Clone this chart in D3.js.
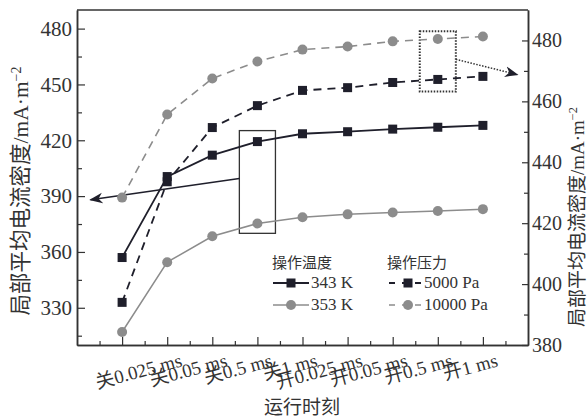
<!DOCTYPE html>
<html>
<head>
<meta charset="utf-8">
<script src="https://cdn.jsdelivr.net/npm/d3@7"></script>
<style>
  body { margin: 0; background: #fff; }
</style>
</head>
<body>
<div id="chart"></div>
<script>
// x positions 0..8, first point has no label
var tickLabels = ["", "关0.025 ms", "关0.05 ms", "关0.5 ms", "关1 ms", "开0.025 ms", "开0.05 ms", "开0.5 ms", "开1 ms"];

// left axis (操作温度)
var t343 = [357, 400.5, 412, 419.3, 423.5, 424.6, 426, 427, 428];
var t353 = [317, 354.5, 368.4, 375.3, 378.6, 380.2, 381.2, 382, 383];
// right axis (操作压力)
var p5000 = [394, 433.6, 451.4, 458.6, 463.6, 464.5, 466.2, 467.2, 468.2];
var p10000 = [428.4, 455.7, 467.5, 473.1, 477, 478, 479.7, 480.5, 481.3];

var leftTicks = [330, 360, 390, 420, 450, 480];
var rightTicks = [380, 400, 420, 440, 460, 480];

var FONT = '"Liberation Serif", "Noto Sans CJK SC", serif';

var width = 588, height = 417;
var margin = {left: 77, right: 60, top: 10, bottom: 72};

var svg = d3.select("#chart").append("svg")
  .attr("width", width).attr("height", height);

var x = d3.scaleLinear().domain([-1, 9]).range([margin.left, width - margin.right]);
var yL = d3.scaleLinear().domain([310, 490]).range([height - margin.bottom, margin.top]);
var yR = d3.scaleLinear().domain([380, 490]).range([height - margin.bottom, margin.top]);

var dark = "#1f1f2b", gray = "#8c8c8c", axisCol = "#333";

function txt(sel, size) {
  return sel.style("font-family", FONT).style("font-size", size + "px").attr("fill", "#333");
}

// frame top
svg.append("line")
  .attr("x1", x(-1)).attr("x2", x(9))
  .attr("y1", margin.top).attr("y2", margin.top)
  .attr("stroke", axisCol).attr("stroke-width", 1.5);

function styleAxis(g, size) {
  g.selectAll("path").attr("stroke", axisCol).attr("stroke-width", 1.5);
  g.selectAll("line").attr("stroke", axisCol).attr("stroke-width", 1.2);
  txt(g.selectAll("text"), size);
}

// left axis
var gl = svg.append("g").attr("transform", `translate(${margin.left},0)`)
  .call(d3.axisLeft(yL).tickValues(leftTicks).tickSizeInner(-8).tickSizeOuter(0).tickPadding(5));
styleAxis(gl, 21);
var glm = svg.append("g").attr("transform", `translate(${margin.left},0)`)
  .call(d3.axisLeft(yL).tickValues(d3.range(315, 490, 30)).tickSizeInner(-5).tickSizeOuter(0).tickFormat(""));
styleAxis(glm, 10);

// right axis
var gr = svg.append("g").attr("transform", `translate(${width - margin.right},0)`)
  .call(d3.axisRight(yR).tickValues(rightTicks).tickSizeInner(-6).tickSizeOuter(0).tickPadding(4));
styleAxis(gr, 20);
var grm = svg.append("g").attr("transform", `translate(${width - margin.right},0)`)
  .call(d3.axisRight(yR).tickValues(d3.range(390, 490, 20)).tickSizeInner(-4).tickSizeOuter(0).tickFormat(""));
styleAxis(grm, 10);

// bottom axis
var gb = svg.append("g").attr("transform", `translate(0,${height - margin.bottom})`)
  .call(d3.axisBottom(x).tickValues(d3.range(0, 9)).tickSizeInner(-8).tickSizeOuter(0).tickFormat(""));
styleAxis(gb, 10);
var gbm = svg.append("g").attr("transform", `translate(0,${height - margin.bottom})`)
  .call(d3.axisBottom(x).tickValues(d3.range(-0.5, 9, 1)).tickSizeInner(-4).tickSizeOuter(0).tickFormat(""));
styleAxis(gbm, 10);

txt(svg.append("g").selectAll("text")
  .data(tickLabels)
  .enter().append("text")
  .attr("transform", (d, i) => `translate(${x(i) + 16},${height - margin.bottom + 21}) rotate(-15)`)
  .attr("text-anchor", "end")
  .text(d => d), 19);

// axis titles
txt(svg.append("text")
  .attr("x", 302).attr("y", 414)
  .attr("text-anchor", "middle")
  .text("运行时刻"), 19);

function yTitle(cx, cy, size) {
  var t = txt(svg.append("text")
    .attr("transform", `translate(${cx},${cy}) rotate(-90)`)
    .attr("text-anchor", "middle")
    .attr("dy", "0.35em"), size);
  t.append("tspan").text("局部平均电流密度/mA·m");
  t.append("tspan").attr("dy", "-0.5em").style("font-size", (size * 0.65) + "px").text("−2");
}
yTitle(20, 191, 21.5);
yTitle(577, 217, 19);

// annotation boxes and arrows
svg.append("defs").append("marker")
  .attr("id", "arr").attr("viewBox", "0 0 10 10")
  .attr("refX", 9).attr("refY", 5)
  .attr("markerWidth", 9).attr("markerHeight", 9)
  .attr("orient", "auto-start-reverse")
  .append("path").attr("d", "M0,1 L10,5 L0,9 L3,5 Z").attr("fill", dark);

svg.append("rect")
  .attr("x", x(2.6)).attr("y", yL(425.2))
  .attr("width", x(3.4) - x(2.6)).attr("height", yL(370) - yL(425.2))
  .attr("fill", "none").attr("stroke", axisCol).attr("stroke-width", 1.3);
svg.append("line")
  .attr("x1", x(2.6)).attr("y1", yL(399.5))
  .attr("x2", x(-0.7)).attr("y2", yL(388))
  .attr("stroke", dark).attr("stroke-width", 1.5)
  .attr("marker-end", "url(#arr)");

svg.append("rect")
  .attr("x", x(6.6)).attr("y", yR(483))
  .attr("width", x(7.4) - x(6.6)).attr("height", yR(463.2) - yR(483))
  .attr("fill", "none").attr("stroke", axisCol).attr("stroke-width", 2)
  .attr("stroke-dasharray", "1.5,1.5");
svg.append("line")
  .attr("x1", x(7.4)).attr("y1", yR(473.8))
  .attr("x2", x(8.76)).attr("y2", yR(468.8))
  .attr("stroke", axisCol).attr("stroke-width", 1.5)
  .attr("stroke-dasharray", "1.5,1.5")
  .attr("marker-end", "url(#arr)");

// series
var series = [
  {name: "343 K", data: t343, y: yL, color: dark, dash: null, shape: "square", w: 1.8},
  {name: "353 K", data: t353, y: yL, color: gray, dash: null, shape: "circle", w: 1.5},
  {name: "5000 Pa", data: p5000, y: yR, color: dark, dash: "8,6", shape: "square", w: 1.8},
  {name: "10000 Pa", data: p10000, y: yR, color: gray, dash: "8,6", shape: "circle", w: 1.6}
];

function drawMarker(g, shape, color, cx, cy) {
  if (shape === "square") {
    g.append("rect").attr("x", cx - 4.5).attr("y", cy - 4.5)
      .attr("width", 9).attr("height", 9).attr("fill", color);
  } else {
    g.append("circle").attr("cx", cx).attr("cy", cy).attr("r", 5).attr("fill", color);
  }
}

series.forEach(function(s) {
  var line = d3.line().x((d, i) => x(i)).y(d => s.y(d));
  svg.append("path")
    .datum(s.data)
    .attr("d", line)
    .attr("fill", "none")
    .attr("stroke", s.color)
    .attr("stroke-width", s.w)
    .attr("stroke-dasharray", s.dash);
  var g = svg.append("g");
  s.data.forEach((d, i) => drawMarker(g, s.shape, s.color, x(i), s.y(d)));
});

// legend
var leg = svg.append("g");
txt(leg.append("text").attr("x", 272).attr("y", 268).text("操作温度"), 15);
txt(leg.append("text").attr("x", 387).attr("y", 268).text("操作压力"), 15);

[series[0], series[1]].forEach(function(s, i) {
  var yy = 283 + i * 22;
  leg.append("line").attr("x1", 273).attr("x2", 309).attr("y1", yy).attr("y2", yy)
    .attr("stroke", s.color).attr("stroke-width", s.w);
  drawMarker(leg, s.shape, s.color, 291, yy);
  txt(leg.append("text").attr("x", 311).attr("y", yy + 5).text(s.name), 17);
});
[series[2], series[3]].forEach(function(s, i) {
  var yy = 283 + i * 22;
  leg.append("line").attr("x1", 389).attr("x2", 421).attr("y1", yy).attr("y2", yy)
    .attr("stroke", s.color).attr("stroke-width", s.w).attr("stroke-dasharray", "6,7");
  drawMarker(leg, s.shape, s.color, 408, yy);
  txt(leg.append("text").attr("x", 424).attr("y", yy + 5).text(s.name), 17);
});
</script>
</body>
</html>
